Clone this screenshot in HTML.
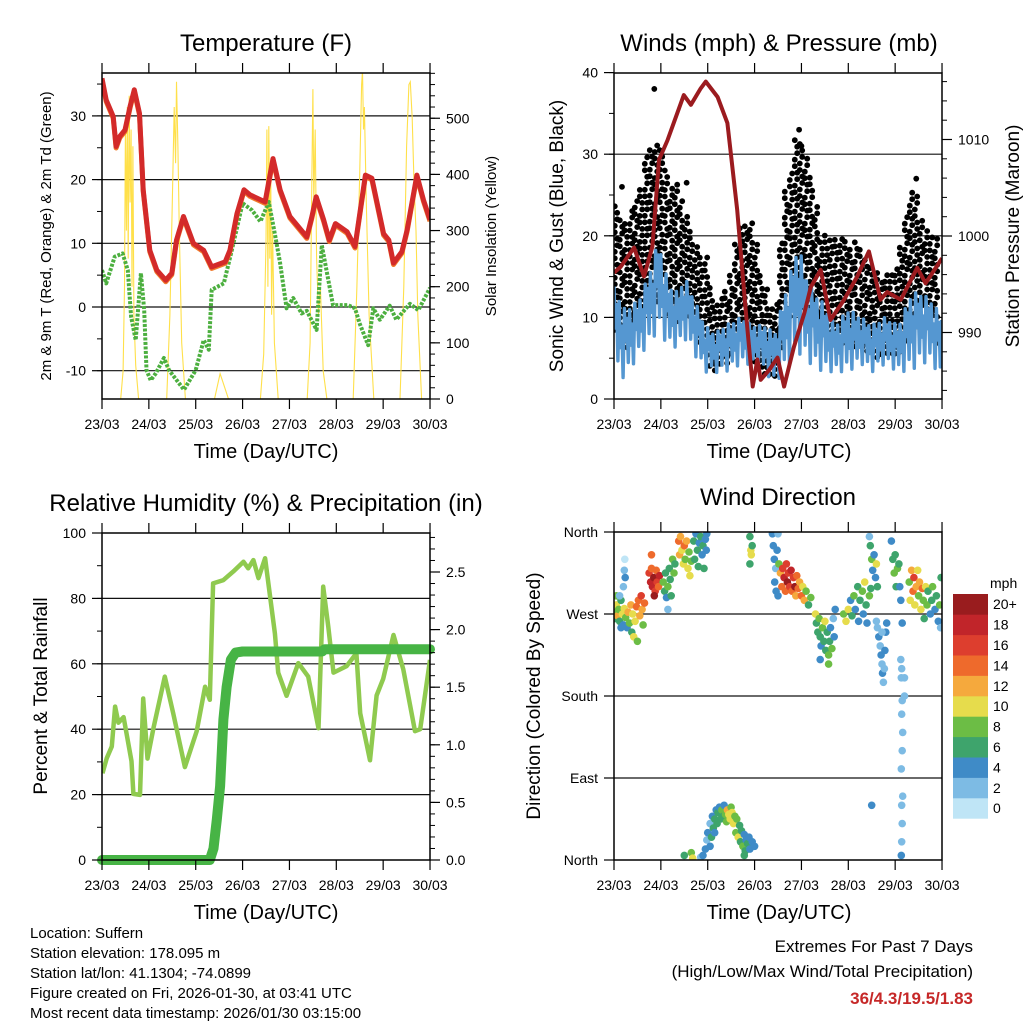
<!DOCTYPE html>
<html><head><meta charset="utf-8"><title>Station meteogram</title>
<style>
html,body{margin:0;padding:0;background:#fff;}
svg{display:block;font-family:"Liberation Sans",sans-serif;}
</style></head>
<body>
<svg id="chart" width="1024" height="1024" viewBox="0 0 1024 1024" xmlns="http://www.w3.org/2000/svg">
<rect x="0" y="0" width="1024" height="1024" fill="#fff"/>
<text x="266" y="51" font-size="24" text-anchor="middle">Temperature (F)</text>
<text x="779" y="51" font-size="24" text-anchor="middle">Winds (mph) &amp; Pressure (mb)</text>
<text x="266" y="511" font-size="24" text-anchor="middle">Relative Humidity (%) &amp; Precipitation (in)</text>
<text x="778" y="505" font-size="24" text-anchor="middle">Wind Direction</text>
<text x="266" y="458" font-size="20" text-anchor="middle">Time (Day/UTC)</text>
<text x="779" y="458" font-size="20" text-anchor="middle">Time (Day/UTC)</text>
<text x="266" y="919" font-size="20" text-anchor="middle">Time (Day/UTC)</text>
<text x="779" y="919" font-size="20" text-anchor="middle">Time (Day/UTC)</text>
<text transform="translate(51,236) rotate(-90)" font-size="15" text-anchor="middle">2m &amp; 9m T (Red, Orange) &amp; 2m Td (Green)</text>
<text transform="translate(496,236) rotate(-90)" font-size="15" text-anchor="middle">Solar Insolation (Yellow)</text>
<text transform="translate(563,236) rotate(-90)" font-size="19" text-anchor="middle">Sonic Wind &amp; Gust (Blue, Black)</text>
<text transform="translate(1019,236) rotate(-90)" font-size="19" text-anchor="middle">Station Pressure (Maroon)</text>
<text transform="translate(47,696) rotate(-90)" font-size="19" text-anchor="middle">Percent &amp; Total Rainfall</text>
<text transform="translate(540,696) rotate(-90)" font-size="19" text-anchor="middle">Direction (Colored By Speed)</text>
<g font-size="15">
<text x="30" y="938">Location: Suffern</text>
<text x="30" y="958">Station elevation: 178.095 m</text>
<text x="30" y="978">Station lat/lon: 41.1304; -74.0899</text>
<text x="30" y="998">Figure created on Fri, 2026-01-30, at 03:41 UTC</text>
<text x="30" y="1018">Most recent data timestamp: 2026/01/30 03:15:00</text>
</g>
<text x="973" y="952" font-size="17" text-anchor="end">Extremes For Past 7 Days</text>
<text x="973" y="977" font-size="17" text-anchor="end">(High/Low/Max Wind/Total Precipitation)</text>
<text x="973" y="1004" font-size="17" font-weight="bold" fill="#c62828" text-anchor="end">36/4.3/19.5/1.83</text>
<text x="990" y="588" font-size="14">mph</text>
</svg>
<script>
// ---- Data ----
const dayLabels = ["23/03","24/03","25/03","26/03","27/03","28/03","29/03","30/03"];
const tempT = [0,0.09,0.24,0.30,0.38,0.49,0.60,0.69,0.80,0.88,1.02,1.17,1.36,1.49,1.59,1.74,1.95,2.17,2.34,2.63,2.73,2.88,3.03,3.16,3.48,3.65,3.80,4.01,4.37,4.48,4.57,4.73,4.85,4.98,5.23,5.40,5.62,5.76,6.01,6.12,6.22,6.40,6.51,6.72,6.86,7.0];
const tempV = [35.9,32.5,29.9,25.2,26.8,27.8,31.5,34.1,30.4,18.4,8.9,5.8,4.2,5.3,10.5,14.2,10,8.9,6.3,7.1,8.9,14.7,18.4,17.6,16.5,23.3,18.4,14.2,11.0,14.2,17.3,13.7,10.5,13.1,11.8,9.5,20.7,20.2,11.5,10.5,6.9,8.7,12.1,20.7,16.8,13.7];
const dewT = [0,0.09,0.27,0.44,0.55,0.62,0.72,0.83,0.90,0.95,1.04,1.15,1.32,1.43,1.75,2.00,2.17,2.28,2.34,2.60,2.77,3.00,3.20,3.38,3.56,3.70,3.80,3.94,4.08,4.26,4.37,4.58,4.69,4.93,5.25,5.40,5.50,5.68,5.79,5.93,6.14,6.28,6.57,6.75,7.0];
const dewV = [5.8,3.7,7.9,8.4,5.8,-1.5,-5.2,5.3,-0.5,-9.9,-11.5,-10.4,-8.0,-9.9,-13.0,-9.9,-5.2,-6.7,2.7,3.7,8.9,16.3,15.2,13.4,16.5,11.0,6.9,-0.2,1.4,-1.0,-0.6,-3.6,9.7,0.3,0.3,-0.2,-2.6,-6.0,-0.2,-2.0,0.2,-2.0,0.5,-0.5,3.0];
const solarT = [0,0.40,0.45,0.48,0.50,0.52,0.54,0.56,0.58,0.60,0.62,0.64,0.66,0.68,0.72,0.78,1.38,1.45,1.50,1.54,1.57,1.59,1.62,1.65,1.70,1.78,2.40,2.48,2.52,2.56,2.62,2.70,3.38,3.45,3.50,3.52,3.54,3.56,3.58,3.60,3.62,3.64,3.68,3.76,4.38,4.44,4.48,4.50,4.52,4.55,4.58,4.62,4.66,4.72,4.80,5.36,5.44,5.50,5.54,5.56,5.58,5.60,5.64,5.70,5.80,6.36,6.44,6.50,6.55,6.58,6.62,6.66,6.70,6.74,6.82,7.0];
const solarV = [0,0,50,200,480,300,520,250,540,350,480,200,450,150,60,0,0,150,350,520,420,565,450,300,100,0,0,30,45,35,20,0,0,80,280,480,200,486,250,420,150,300,100,0,0,100,400,552,350,480,250,150,200,50,0,0,200,400,560,585,480,520,350,150,0,0,200,450,560,565,500,380,300,150,0,0];
const presT = [0,0.14,0.43,0.64,0.82,0.96,1.14,1.49,1.64,1.85,1.96,2.21,2.42,2.63,2.81,2.96,3.06,3.13,3.31,3.49,3.63,3.84,4.06,4.20,4.41,4.62,4.91,5.19,5.44,5.69,5.83,6.12,6.47,6.65,7.0];
const presV = [996.2,996.8,998.8,995.8,998.9,1007.9,1009.9,1014.6,1013.6,1015.3,1016.0,1014.4,1011.7,1002.7,992.3,984.4,987.2,985.1,986.1,987.4,984.4,988.5,992.0,994.7,996.5,991.3,993.4,995.8,998.4,993.4,994.2,993.4,996.7,995.1,997.7];
const windT = [0,0.23,0.52,0.73,0.95,1.16,1.37,1.51,1.73,1.94,2.15,2.37,2.72,2.94,3.22,3.43,3.65,3.93,4.15,4.43,4.72,5.0,5.28,5.5,5.78,6.07,6.35,6.56,6.78,7.0];
const windHi = [13.8,11,12,15,19.5,14,13,15,12,9,8,9,10,9,9,8,13,19,14,12,9,11,10,9,10,9,13,13,12,10];
const windLo = [3,2,5,6,8,6,6,7,5,3,3,3,4,4,3,1.5,3,5,4,3,3,3,4,3,4,3,3,4,4,2];
const gustHi = [24,21.9,25.2,30.9,32.1,27.2,26,23.6,19.1,18,12.1,13,21.9,21.9,13.8,10.5,25.2,33,29.3,19.9,20.3,19.5,19,16.2,15,17,26.8,22.4,20,20];
const gustLo = [9,6,9,11,12,10,9,10,8,5,3,4,7,5,3,2,8,12,10,8,6,7,6,5,5,5,8,9,8,4];
const gustOutT = [0.17,0.86,1.55,3.95,4.0,6.45];
const gustOutV = [26,38,26.5,33,31,27];
const rhT = [0.01,0.10,0.21,0.28,0.35,0.46,0.63,0.67,0.81,0.88,0.97,1.1,1.34,1.52,1.77,2.02,2.20,2.30,2.37,2.59,2.80,3.02,3.12,3.23,3.34,3.48,3.69,3.76,3.94,4.19,4.40,4.62,4.72,4.83,4.94,5.22,5.43,5.51,5.72,5.86,6.0,6.22,6.43,6.68,6.79,7.0];
const rhV = [26.5,31.1,34.7,46.9,42,43.7,30.2,20.2,19.9,49.4,31,40.4,56.1,44.9,28.4,39.4,53,49,84.6,85.6,88.2,91.2,89.2,91.7,86.2,92.3,69.3,57.3,50.2,60.2,56.1,40.3,83.6,71.3,57.3,59.3,63.2,44.9,30.5,50.3,55.4,68.8,58.3,39.4,40.0,61.2];
const rainT = [0,2.30,2.38,2.45,2.52,2.59,2.66,2.75,2.85,3.0,4.7,4.75,7.0];
const rainV = [0,0,0.1,0.35,0.64,1.22,1.50,1.74,1.80,1.81,1.81,1.83,1.83];
const dirT = [0.00,0.03,0.05,0.08,0.1,0.12,0.15,0.18,0.2,0.22,0.25,0.28,0.3,0.33,0.36,0.38,0.4,0.42,0.45,0.48,0.5,0.52,0.55,0.58,0.6,0.62,0.65,0.05,0.12,0.2,0.22,0.23,0.24,0.15,
0.75,0.78,0.8,0.82,0.85,0.88,0.9,0.92,0.95,0.97,0.86,0.8,
1.05,1.08,1.1,1.12,1.15,1.18,1.2,1.22,1.25,1.28,1.3,1.15,
1.38,1.4,1.42,1.45,1.48,1.5,1.52,1.55,1.58,1.6,1.62,1.65,
1.7,1.72,1.75,1.78,1.8,1.82,1.85,1.88,1.9,1.92,1.95,1.97,1.98,
2.9,2.92,2.93,2.9,2.95,
3.38,3.4,3.42,3.45,3.43,3.46,3.5,3.48,3.5,
3.52,3.55,3.58,3.6,3.63,3.66,3.68,3.7,3.72,3.75,3.78,3.8,3.83,3.86,3.88,3.9,3.93,3.96,4.0,4.03,4.06,4.1,4.15,4.2,
4.3,4.32,4.35,4.38,4.4,4.42,4.45,4.48,4.5,4.52,4.55,4.58,4.6,4.62,4.65,4.68,4.7,4.72,4.4,4.58,
4.9,4.95,5.0,5.05,5.08,5.12,5.15,5.2,5.22,5.25,5.3,5.32,5.35,5.38,5.4,5.45,5.48,
5.45,5.47,5.5,5.52,5.55,5.58,5.6,5.62,
5.6,5.62,5.65,5.68,5.7,5.72,5.73,5.75,5.78,5.8,5.82,5.72,5.77,
5.92,5.95,5.98,6.0,6.02,6.05,6.08,6.1,6.12,6.15,
6.12,6.14,6.13,6.15,6.14,6.16,6.15,6.13,6.16,6.14,6.15,6.14,6.13,5.5,6.2,6.2,
6.3,6.32,6.35,6.38,6.4,6.42,6.45,6.48,6.5,6.52,6.55,6.58,6.6,6.62,6.65,6.68,6.7,6.75,6.78,6.8,6.85,6.88,6.92,6.95,6.98,6.97,
1.5,1.65,1.68,1.85,1.9,1.95,1.98,2.0,2.05,2.08,2.1,2.12,2.15,2.18,2.2,2.22,2.25,2.28,2.3,2.33,2.35,2.38,2.4,2.42,2.45,2.48,2.5,2.52,2.55,2.58,2.6,2.62,2.65,2.68,2.7,2.72,2.75,2.78,2.8,2.82,2.85,2.88,2.9,2.95,3.0,2.78,2.05,2.15];
const dirDeg = [272,265,280,268,275,262,285,270,258,276,266,255,272,260,280,250,270,245,262,278,240,285,268,290,275,258,282,290,290,300,318,330,310,255,
315,305,320,300,310,295,318,305,300,312,290,335,
305,295,315,288,300,320,308,290,330,315,325,275,
350,335,355,340,325,345,330,350,320,338,312,328,
350,330,358,340,322,348,355,335,345,320,352,340,358,
355,340,335,325,345,
358,345,330,320,305,295,358,340,290,
325,315,300,320,310,295,325,305,315,300,318,295,310,300,290,312,298,305,290,300,285,295,280,288,
270,260,250,265,245,235,255,240,262,230,250,225,240,255,232,265,245,275,220,215,
270,262,275,285,268,290,275,300,262,285,295,270,305,280,260,290,298,
355,345,330,318,335,310,325,300,
262,255,245,235,225,215,205,195,230,250,260,250,210,
350,330,315,335,300,320,325,300,285,260,
220,210,200,175,160,140,120,100,70,60,40,20,5,60,180,200,
305,285,318,295,310,280,300,318,290,305,275,298,285,265,300,280,295,270,285,300,275,290,262,280,310,255,
5,8,2,3,5,12,22,30,40,25,48,35,45,55,40,52,58,45,55,48,60,50,42,55,50,45,58,52,40,48,30,45,25,38,20,32,15,28,10,22,18,25,12,20,15,5,15,30];
const dirSpd = [8,6,10,12,9,7,6,11,5,10,8,4,12,9,13,7,10,10,11,14,8,15,12,16,13,9,15,8,3,2,2,1,4,4,
16,18,15,19,20,17,14,16,15,18,20,14,
8,7,6,5,8,7,6,7,8,9,6,3,
14,12,13,10,11,14,9,12,10,8,11,9,
7,6,5,7,6,5,6,5,7,6,5,4,5,
6,10,10,6,6,
4,4,4,2,4,4,3,4,5,
8,12,14,16,18,14,16,20,17,16,18,14,16,20,12,15,14,12,14,10,12,8,6,8,
10,6,6,8,6,4,8,6,10,6,6,8,6,4,8,2,4,4,4,8,
8,10,10,4,6,8,4,6,4,6,8,4,10,6,4,8,6,
2,6,8,4,4,4,10,6,
2,2,4,2,4,2,4,2,4,4,4,2,2,
4,6,8,6,6,8,6,4,4,4,
2,2,3,2,2,2,2,2,2,2,2,2,4,4,2,2,
8,10,12,14,16,10,12,10,8,12,10,14,8,6,10,8,6,4,6,8,4,6,4,8,6,2,
6,8,10,2,4,4,2,4,2,6,4,6,6,4,6,6,4,6,8,6,4,8,8,12,10,10,8,10,10,8,8,8,10,6,6,6,8,4,6,4,6,4,4,4,4,6,4,4];
const speedLabels = ["0","2","4","6","8","10","12","14","16","18","20+"];
const speedColors = ["#bfe5f6","#7dbbe4","#3f8bc7","#3ea46c","#6cbd45","#e6dc4c","#f5a93d","#ee6a2c","#dd3e2e","#c1252a","#991c1e"];

// ---- helpers ----
const NS = "http://www.w3.org/2000/svg";
const svg = document.getElementById("chart");
function mk(tag, attrs, parent){
  const e = document.createElementNS(NS, tag);
  for (const k in attrs) e.setAttribute(k, attrs[k]);
  (parent || svg).appendChild(e);
  return e;
}
function interp(ts, vs, t){
  if (t <= ts[0]) return vs[0];
  for (let i = 1; i < ts.length; i++){
    if (t <= ts[i]){ const f = (t - ts[i-1]) / (ts[i] - ts[i-1]); return vs[i-1] + f * (vs[i] - vs[i-1]); }
  }
  return vs[vs.length-1];
}
const DAYW = 46.86;
function xScale(x0){ return d => x0 + d * DAYW; }
const P1 = {x0:102, x1:430, y0:73, y1:399};
const P2 = {x0:614, x1:942, y0:73, y1:399};
const P3 = {x0:102, x1:430, y0:533, y1:860};
const P4 = {x0:614, x1:942, y0:532, y1:860};
const xT = xScale(102), xW = xScale(614);
const yTemp = v => 307 - 6.37 * v;
const ySolar = v => 399 - 0.5615 * v;
const yWind = v => 399 - 8.16 * v;
const yPres = p => 236 - 9.65 * (p - 1000);
const yRH = v => 860 - 3.27 * v;
const yRain = v => 860 - 115.2 * v;
const yDir = d => 860 - d * 328 / 360;

function pathFrom(ts, vs, xs, ys){
  let s = "";
  for (let i = 0; i < ts.length; i++) s += (i ? "L" : "M") + xs(ts[i]).toFixed(1) + "," + ys(vs[i]).toFixed(1);
  return s;
}
function clip(id, P){
  const cp = mk("clipPath", {id:id});
  
  
  const r = mk("rect", {x:P.x0, y:P.y0, width:P.x1-P.x0, height:P.y1-P.y0}, cp);
  
  
}
clip("clip1", P1); clip("clip2", P2); clip("clip3", P3); clip("clip4", P4);

function hgrid(P, ys, name){
  ys.forEach((y, i) => {
    const l = mk("line", {x1:P.x0, x2:P.x1, y1:y, y2:y, stroke:"#111", "stroke-width":1.2});
    
    
  });
}
function frame(P, name){
  const r = mk("rect", {x:P.x0, y:P.y0, width:P.x1-P.x0, height:P.y1-P.y0, fill:"none", stroke:"#000", "stroke-width":1.5});
  
  
}
function xAxis(P, xs, name){
  dayLabels.forEach((lab, i) => {
    const x = xs(i);
    const t1 = mk("line", {x1:x, x2:x, y1:P.y1, y2:P.y1+10, stroke:"#000", "stroke-width":1.2});
    
    
    const t2 = mk("line", {x1:x, x2:x, y1:P.y0, y2:P.y0-10, stroke:"#000", "stroke-width":1.2});
    
    
    const tx = mk("text", {x:x, y:P.y1+30, "font-size":14, "text-anchor":"middle"});
    tx.textContent = lab;
    
    
  });
}
function yAxis(P, side, vals, labels, ys, minorVals, name){
  const x = side === "left" ? P.x0 : P.x1;
  const dir = side === "left" ? -1 : 1;
  minorVals.forEach(v => {
    const y = ys(v);
    if (y < P.y0 - 0.5 || y > P.y1 + 0.5) return;
    const t = mk("line", {x1:x, x2:x + dir*5, y1:y, y2:y, stroke:"#000", "stroke-width":1});
    
    
  });
  vals.forEach((v, i) => {
    const y = ys(v);
    const t = mk("line", {x1:x, x2:x + dir*10, y1:y, y2:y, stroke:"#000", "stroke-width":1.2});
    
    
    const tx = mk("text", {x: x + dir*16, y: y + 5, "font-size":14, "text-anchor": side === "left" ? "end" : "start"});
    tx.textContent = labels[i];
    
    
  });
}
function range(a, b, s){ const r = []; for (let v = a; v <= b + 1e-9; v += s) r.push(+v.toFixed(4)); return r; }

// ---- Panel 1: temperature ----
hgrid(P1, [30,20,10,0,-10].map(yTemp), "temp");
const g1 = mk("g", {"clip-path":"url(#clip1)"});


const solar = mk("path", {d:pathFrom(solarT, solarV, xT, ySolar), fill:"none", stroke:"#ffe04a", "stroke-width":1.1}, g1);


const dew = mk("path", {d:pathFrom(dewT, dewV, xT, yTemp), fill:"none", stroke:"#4caf3f", "stroke-width":4, "stroke-dasharray":"3,1.5", "stroke-linejoin":"round"}, g1);


const t9 = mk("path", {d:pathFrom(tempT, tempV, xT, yTemp), fill:"none", stroke:"#f07a2c", "stroke-width":5, "stroke-linejoin":"round", transform:"translate(0,1.5)"}, g1);


const t2 = mk("path", {d:pathFrom(tempT, tempV, xT, yTemp), fill:"none", stroke:"#d32a2a", "stroke-width":5, "stroke-linejoin":"round"}, g1);


frame(P1, "temp");
xAxis(P1, xT, "temp");
yAxis(P1, "left", [30,20,10,0,-10], ["30","20","10","0","-10"], yTemp, range(-10,35,5), "temp-left");
yAxis(P1, "right", [0,100,200,300,400,500], ["0","100","200","300","400","500"], ySolar, range(0,600,20), "solar-right");

// ---- Panel 2: winds ----
hgrid(P2, [10,20,30].map(yWind), "wind");
const g2 = mk("g", {"clip-path":"url(#clip2)"});


// gust dots
for (let x = P2.x0 + 2, c = 0; x < P2.x1 - 1; x += 5, c++){
  const d = (x - P2.x0) / DAYW;
  const hi = yWind(interp(windT, gustHi, d)) + (c % 3) * 3;
  const lo = yWind(interp(windT, gustLo, d));
  for (let y = hi + (c % 2) * 3; y <= lo; y += 6.5){
    const dot = mk("circle", {cx:x + ((Math.round(y) % 2) ? 1.2 : -1.2), cy:y.toFixed(1), r:2.9, fill:"#000"}, g2);
    
    
  }
}
gustOutT.forEach((t, i) => {
  const dot = mk("circle", {cx:xW(t), cy:yWind(gustOutV[i]), r:2.9, fill:"#000"}, g2);
  
  
});
// sonic wind: jagged trace between low and high envelopes
let zig = "";
for (let x = P2.x0, c = 0; x <= P2.x1; x += 1.3, c++){
  const d = (x - P2.x0) / DAYW;
  const hi = interp(windT, windHi, d), lo = interp(windT, windLo, d);
  const frac = [1, 0.55, 0.85, 0.2, 0.95, 0.4, 0.7, 0.05][c % 8];
  const v = lo + (hi - lo) * frac;
  zig += (c ? "L" : "M") + x.toFixed(1) + "," + yWind(v).toFixed(1);
}
const bandEl = mk("path", {d:zig, fill:"none", stroke:"#5597d1", "stroke-width":3.4, "stroke-linejoin":"round"}, g2);


const pres = mk("path", {d:pathFrom(presT, presV, xW, yPres), fill:"none", stroke:"#9b1b1f", "stroke-width":4, "stroke-linejoin":"round"}, g2);


frame(P2, "wind");
xAxis(P2, xW, "wind");
yAxis(P2, "left", [0,10,20,30,40], ["0","10","20","30","40"], yWind, range(0,40,5), "wind-left");
yAxis(P2, "right", [990,1000,1010], ["990","1000","1010"], yPres, range(984,1016,2), "pressure-right");

// ---- Panel 3: humidity ----
hgrid(P3, [20,40,60,80].map(yRH), "rh");
const g3 = mk("g", {"clip-path":"url(#clip3)"});


const rh = mk("path", {d:pathFrom(rhT, rhV, xT, yRH), fill:"none", stroke:"#8fca4f", "stroke-width":4.5, "stroke-linejoin":"round"}, g3);


const g3b = mk("g", {});


const rain = mk("path", {d:pathFrom(rainT, rainV, xT, yRain), fill:"none", stroke:"#47b445", "stroke-width":10, "stroke-linejoin":"round", "stroke-linecap":"round"}, g3b);


frame(P3, "rh");
xAxis(P3, xT, "rh");
yAxis(P3, "left", [0,20,40,60,80,100], ["0","20","40","60","80","100"], yRH, range(0,100,10), "rh-left");
yAxis(P3, "right", [0,0.5,1,1.5,2,2.5], ["0.0","0.5","1.0","1.5","2.0","2.5"], yRain, range(0,2.8,0.1), "rain-right");

// ---- Panel 4: wind direction ----
hgrid(P4, [270,180,90].map(yDir), "dir");
const g4 = mk("g", {"clip-path":"url(#clip4)"});


dirT.forEach((t, i) => {
  const bin = Math.min(10, Math.floor(dirSpd[i] / 2));
  const p = mk("circle", {cx:xW(t).toFixed(1), cy:yDir(dirDeg[i]).toFixed(1), r:3.8, fill:speedColors[bin]}, g4);
  
  
});
frame(P4, "dir");
xAxis(P4, xW, "dir");
yAxis(P4, "left", [0,90,180,270,360], ["North","East","South","West","North"], yDir, [], "dir-left");

// colorbar
const cbTop = 594, cbH = 20.4;
speedLabels.forEach((lab, i) => {
  const y = cbTop + (10 - i) * cbH;
  const r = mk("rect", {x:953, y:y, width:35, height:cbH + 0.3, fill:speedColors[i]});
  
  
  const tx = mk("text", {x:993, y:y + cbH/2 + 5, "font-size":14});
  tx.textContent = lab;
  
  
});
</script>
</body></html>
